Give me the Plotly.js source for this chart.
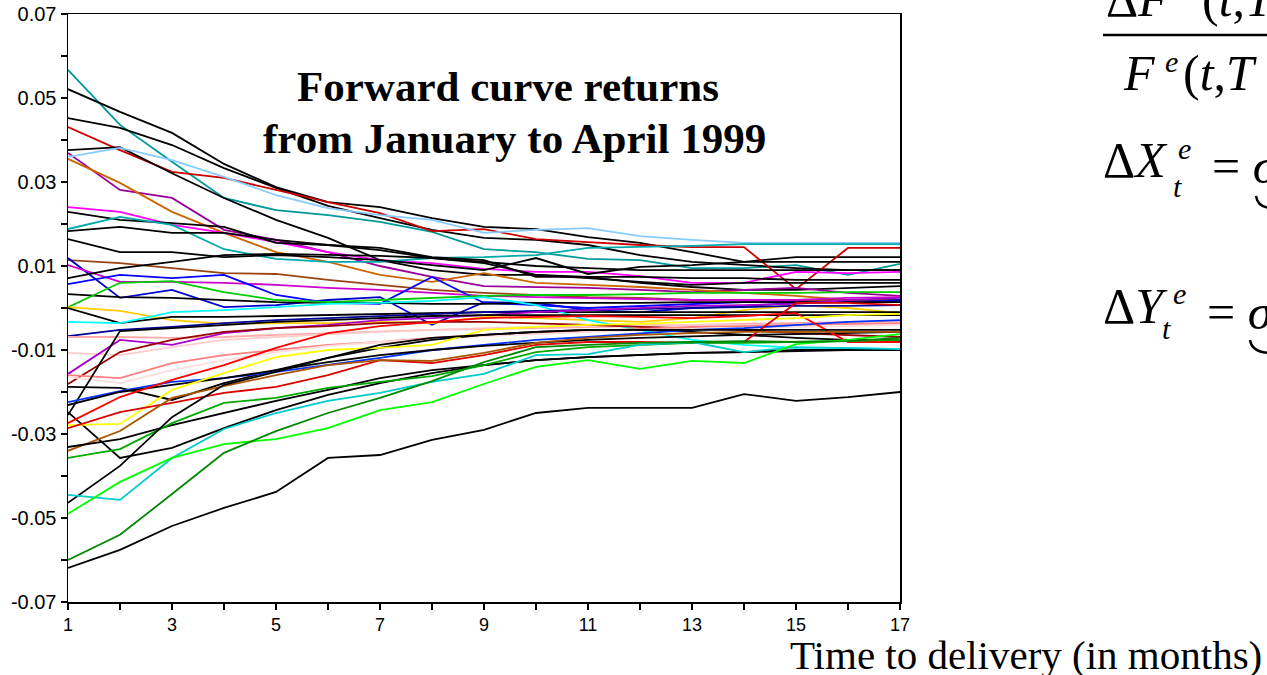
<!DOCTYPE html>
<html>
<head>
<meta charset="utf-8">
<script src="https://cdn.plot.ly/plotly-3.0.1.min.js"></script>
<style>
html,body{margin:0;padding:0;background:#fff;}
#chart{width:1267px;height:675px;}
</style>
</head>
<body>
<div id="chart"></div>
<script>
// ---- data ----
const months = [1,2,3,4,5,6,7,8,9,10,11,12,13,14,15,16,17];
const xTickText = ['1','','3','','5','','7','','9','','11','','13','','15','','17'];
const yTickVals = [-0.07,-0.06,-0.05,-0.04,-0.03,-0.02,-0.01,0,0.01,0.02,0.03,0.04,0.05,0.06,0.07];
const yTickText = ['-0.07','','-0.05','','-0.03','','-0.01','','0.01','','0.03','','0.05','','0.07'];

const r01 = [0.0567,0.0436,0.0348,0.0262,0.0233,0.0221,0.0205,0.0181,0.0140,0.0133,0.0117,0.0114,0.0095,0.0095,0.0102,0.0079,0.0105];
const r02 = [0.0521,0.0467,0.0417,0.0343,0.0288,0.0252,0.0240,0.0214,0.0193,0.0188,0.0169,0.0155,0.0133,0.0110,0.0121,0.0121,0.0121];
const r03 = [0.0452,0.0429,0.0388,0.0333,0.0286,0.0243,0.0214,0.0186,0.0167,0.0162,0.0150,0.0126,0.0110,0.0102,0.0095,0.0090,0.0090];
const r04 = [0.0431,0.0376,0.0324,0.0310,0.0281,0.0252,0.0226,0.0183,0.0188,0.0164,0.0157,0.0150,0.0145,0.0145,0.0045,0.0143,0.0143];
const r05 = [0.0376,0.0383,0.0321,0.0262,0.0210,0.0167,0.0114,0.0090,0.0079,0.0079,0.0074,0.0060,0.0050,0.0043,0.0043,0.0048,0.0052];
const r06 = [0.0369,0.0281,0.0262,0.0186,0.0162,0.0133,0.0100,0.0074,0.0052,0.0050,0.0048,0.0043,0.0038,0.0043,0.0048,0.0036,0.0029];
const r07 = [0.0360,0.0381,0.0352,0.0312,0.0269,0.0238,0.0221,0.0210,0.0179,0.0186,0.0190,0.0171,0.0162,0.0155,0.0155,0.0155,0.0155];
const r08 = [0.0355,0.0298,0.0229,0.0179,0.0133,0.0110,0.0079,0.0062,0.0083,0.0060,0.0055,0.0050,0.0043,0.0036,0.0029,0.0019,0.0014];
const r09 = [0.0240,0.0229,0.0198,0.0179,0.0157,0.0133,0.0114,0.0107,0.0093,0.0086,0.0086,0.0076,0.0060,0.0060,0.0086,0.0083,0.0086];
const r10 = [0.0229,0.0210,0.0202,0.0193,0.0155,0.0150,0.0138,0.0119,0.0107,0.0079,0.0071,0.0062,0.0055,0.0060,0.0060,0.0060,0.0060];
const r11 = [0.0188,0.0217,0.0198,0.0140,0.0117,0.0110,0.0110,0.0119,0.0121,0.0126,0.0143,0.0145,0.0148,0.0152,0.0152,0.0152,0.0152];
const r12 = [0.0183,0.0193,0.0179,0.0179,0.0162,0.0150,0.0143,0.0121,0.0114,0.0074,0.0074,0.0074,0.0071,0.0071,0.0067,0.0067,0.0067];
const r13 = [0.0164,0.0133,0.0133,0.0121,0.0126,0.0121,0.0114,0.0102,0.0090,0.0119,0.0081,0.0098,0.0102,0.0110,0.0110,0.0110,0.0110];
const r14 = [0.0114,0.0107,0.0095,0.0083,0.0081,0.0067,0.0055,0.0043,0.0036,0.0031,0.0026,0.0024,0.0019,0.0019,0.0019,0.0019,0.0019];
const r15 = [0.0119,0.0024,0.0043,0.0002,0.0007,0.0019,0.0026,-0.0040,0.0014,0.0012,-0.0005,-0.0010,0.0000,0.0005,0.0012,0.0014,0.0019];
const r16 = [0.0102,0.0062,0.0062,0.0060,0.0055,0.0048,0.0043,0.0036,0.0029,0.0026,0.0024,0.0021,0.0019,0.0019,0.0019,0.0024,0.0026];
const r17 = [0.0071,0.0095,0.0110,0.0126,0.0129,0.0126,0.0124,0.0119,0.0110,0.0100,0.0095,0.0090,0.0090,0.0090,0.0090,0.0090,0.0090];
const r18 = [0.0057,0.0079,0.0071,0.0079,0.0031,0.0012,0.0010,0.0074,0.0012,0.0007,0.0000,0.0005,0.0010,0.0014,0.0014,0.0014,0.0014];
const r19 = [0.0033,0.0026,0.0024,0.0019,0.0014,0.0012,0.0012,0.0010,0.0010,0.0012,0.0012,0.0012,0.0014,0.0014,0.0014,0.0014,0.0014];
const r20 = [0.0002,0.0060,0.0064,0.0038,0.0019,0.0014,0.0019,0.0024,0.0029,0.0031,0.0031,0.0033,0.0036,0.0036,0.0036,0.0038,0.0038];
const r21 = [0.0002,-0.0007,-0.0029,-0.0038,-0.0036,-0.0036,-0.0033,-0.0036,-0.0021,-0.0024,-0.0029,-0.0033,-0.0024,-0.0005,0.0007,0.0000,-0.0012];
const r22 = [0.0000,-0.0036,-0.0021,-0.0021,-0.0019,-0.0017,-0.0014,-0.0012,-0.0010,-0.0010,-0.0010,-0.0010,-0.0010,-0.0010,-0.0010,-0.0010,-0.0010];
const r23 = [-0.0033,-0.0036,-0.0010,-0.0005,0.0002,0.0010,0.0012,0.0017,0.0026,0.0007,-0.0029,-0.0052,-0.0076,-0.0088,-0.0095,-0.0095,-0.0098];
const r24 = [-0.0067,-0.0052,-0.0045,-0.0036,-0.0029,-0.0024,-0.0019,-0.0014,-0.0010,-0.0007,-0.0005,-0.0002,0.0000,0.0002,0.0005,0.0005,0.0007];
const r25 = [-0.0069,-0.0069,-0.0071,-0.0069,-0.0064,-0.0060,-0.0057,-0.0052,-0.0050,-0.0048,-0.0045,-0.0043,-0.0040,-0.0038,-0.0036,-0.0033,-0.0031];
const r26 = [-0.0107,-0.0112,-0.0093,-0.0076,-0.0069,-0.0062,-0.0057,-0.0052,-0.0048,-0.0045,-0.0043,-0.0040,-0.0040,-0.0040,-0.0040,-0.0038,-0.0038];
const r27 = [-0.0157,-0.0076,-0.0088,-0.0060,-0.0048,-0.0040,-0.0029,-0.0024,-0.0017,-0.0010,-0.0005,0.0000,0.0005,0.0007,0.0010,0.0019,0.0024];
const r28 = [-0.0181,-0.0105,-0.0076,-0.0057,-0.0048,-0.0043,-0.0036,-0.0033,-0.0033,-0.0036,-0.0040,-0.0045,-0.0048,-0.0052,-0.0060,-0.0064,-0.0069];
const r29 = [-0.0160,-0.0167,-0.0131,-0.0112,-0.0100,-0.0088,-0.0081,-0.0071,-0.0064,-0.0060,-0.0055,-0.0050,-0.0045,-0.0043,-0.0040,-0.0038,-0.0036];
const r30 = [-0.0164,-0.0179,-0.0148,-0.0124,-0.0105,-0.0090,-0.0081,-0.0074,-0.0067,-0.0062,-0.0057,-0.0052,-0.0050,-0.0048,-0.0045,-0.0043,-0.0040];
const r31 = [-0.0188,-0.0190,-0.0219,-0.0179,-0.0148,-0.0119,-0.0095,-0.0076,-0.0064,-0.0057,-0.0052,-0.0052,-0.0057,-0.0064,-0.0071,-0.0076,-0.0076];
const r32 = [-0.0255,-0.0055,-0.0048,-0.0040,-0.0033,-0.0029,-0.0024,-0.0019,-0.0017,-0.0017,-0.0017,-0.0017,-0.0017,-0.0017,-0.0017,-0.0017,-0.0017];
const r33 = [-0.0248,-0.0357,-0.0333,-0.0286,-0.0243,-0.0207,-0.0179,-0.0155,-0.0136,-0.0124,-0.0117,-0.0112,-0.0107,-0.0105,-0.0102,-0.0100,-0.0100];
const r34 = [-0.0224,-0.0198,-0.0176,-0.0167,-0.0152,-0.0136,-0.0119,-0.0100,-0.0088,-0.0076,-0.0069,-0.0060,-0.0052,-0.0048,-0.0040,-0.0033,-0.0029];
const r35 = [-0.0231,-0.0200,-0.0183,-0.0167,-0.0148,-0.0129,-0.0112,-0.0100,-0.0090,-0.0083,-0.0076,-0.0071,-0.0067,-0.0064,-0.0062,-0.0060,-0.0057];
const r36 = [-0.0274,-0.0212,-0.0171,-0.0136,-0.0095,-0.0060,-0.0043,-0.0033,-0.0024,-0.0021,-0.0019,-0.0021,-0.0024,-0.0019,-0.0012,-0.0081,-0.0081];
const r37 = [-0.0279,-0.0276,-0.0195,-0.0155,-0.0117,-0.0100,-0.0095,-0.0088,-0.0052,-0.0045,-0.0040,-0.0038,-0.0033,-0.0029,-0.0024,-0.0017,-0.0014];
const r38 = [-0.0286,-0.0248,-0.0226,-0.0202,-0.0188,-0.0160,-0.0124,-0.0131,-0.0112,-0.0088,-0.0081,-0.0081,-0.0083,-0.0081,0.0012,0.0012,0.0007];
const r39 = [-0.0340,-0.0293,-0.0214,-0.0186,-0.0160,-0.0136,-0.0124,-0.0126,-0.0107,-0.0083,-0.0071,-0.0064,-0.0060,-0.0057,-0.0057,-0.0057,-0.0057];
const r40 = [-0.0331,-0.0312,-0.0279,-0.0250,-0.0221,-0.0195,-0.0167,-0.0148,-0.0136,-0.0124,-0.0117,-0.0112,-0.0107,-0.0105,-0.0100,-0.0100,-0.0100];
const r41 = [-0.0357,-0.0336,-0.0274,-0.0226,-0.0214,-0.0190,-0.0176,-0.0162,-0.0136,-0.0105,-0.0093,-0.0088,-0.0083,-0.0083,-0.0081,-0.0079,-0.0076];
const r42 = [-0.0464,-0.0376,-0.0260,-0.0183,-0.0152,-0.0119,-0.0088,-0.0071,-0.0064,-0.0057,-0.0052,-0.0052,-0.0052,-0.0052,-0.0052,-0.0052,-0.0052];
const r43 = [-0.0445,-0.0457,-0.0357,-0.0288,-0.0250,-0.0221,-0.0202,-0.0176,-0.0157,-0.0112,-0.0110,-0.0088,-0.0081,-0.0105,-0.0093,-0.0095,-0.0098];
const r44 = [-0.0490,-0.0414,-0.0357,-0.0324,-0.0312,-0.0286,-0.0243,-0.0224,-0.0181,-0.0140,-0.0124,-0.0145,-0.0126,-0.0131,-0.0086,-0.0076,-0.0062];
const r45 = [-0.0600,-0.0540,-0.0443,-0.0345,-0.0293,-0.0250,-0.0214,-0.0174,-0.0129,-0.0093,-0.0088,-0.0083,-0.0081,-0.0079,-0.0081,-0.0079,-0.0071];
const r46 = [-0.0619,-0.0576,-0.0519,-0.0476,-0.0438,-0.0357,-0.0350,-0.0314,-0.0290,-0.0250,-0.0238,-0.0238,-0.0238,-0.0205,-0.0221,-0.0212,-0.0200];

const seriesList = [r01,r02,r03,r04,r05,r06,r07,r08,r09,r10,r11,r12,r13,r14,r15,r16,r17,r18,r19,r20,r21,r22,r23,
  r24,r25,r26,r27,r28,r29,r30,r31,r32,r33,r34,r35,r36,r37,r38,r39,r40,r41,r42,r43,r44,r45,r46];

// ---- styles ----
const seriesColors = ['#009999','#000000','#000000','#cc0000','#000000','#990099','#88ccff','#cc6600','#ff00ff','#000000',
  '#00aaaa','#000000','#000000','#994411','#0000cc','#cc00cc','#000000','#0000ff','#000000','#00cc00',
  '#ffcc00','#000000','#00ffff','#000099','#ffaaaa','#ffcccc','#aa00cc','#990000','#ff8080','#ffdddd',
  '#000000','#000000','#000000','#0033ff','#000000','#ff0000','#ffff00','#dd0000','#aa5500','#000000',
  '#00aa00','#000000','#00cccc','#00ff00','#008800','#000000'];

const traces = seriesList.map((s, i) => ({
  x: months, y: s, type: 'scatter', mode: 'lines',
  line: {color: seriesColors[i], width: 1.8},
  hoverinfo: 'skip', showlegend: false
}));

// pixel helpers for paper coordinates (plot area 68..900 x 14..602)
const PL = 68, PR = 900, PT = 14, PB = 602;
const px = v => (v - PL) / (PR - PL);
const py = v => (PB - v) / (PB - PT);

const serif = 'Liberation Serif';
const titleFont = {family: serif, size: 43, color: '#000'};
const mathFont = {family: serif, size: 50, color: '#000'};
const smallMath = {family: serif, size: 30, color: '#000'};

function ann(text, x, y, font, xanchor) {
  return {text: text, xref: 'paper', yref: 'paper', x: px(x), y: py(y),
    xanchor: xanchor || 'left', yanchor: 'middle', showarrow: false, font: font};
}

const annotations = [
  ann('<b>Forward curve returns</b>', 508, 87, titleFont, 'center'),
  ann('<b>from January to April 1999</b>', 514, 138, titleFont, 'center'),
  ann('Time to delivery (in months)', 1264, 655, {family: serif, size: 41, color: '#000'}, 'right'),
  // numerator (cut off at the top)
  ann('Δ<i>F</i>', 1104, -1, mathFont),
  ann('(<i>t</i>,<i>T</i>', 1200, -1, mathFont),
  // denominator
  ann('<i>F</i>', 1121, 73, mathFont),
  ann('<i>e</i>', 1163, 62, smallMath),
  ann('(<i>t</i>,<i>T</i>', 1181, 73, mathFont),
  // ΔX
  ann('Δ<i>X</i>', 1101, 160, mathFont),
  ann('<i>e</i>', 1176, 148, smallMath),
  ann('<i>t</i>', 1171, 186, smallMath),
  ann('= <i>σ</i>', 1210, 166, mathFont),
  // ΔY
  ann('Δ<i>Y</i>', 1101, 306, mathFont),
  ann('<i>e</i>', 1171, 293, smallMath),
  ann('<i>t</i>', 1160, 328, smallMath),
  ann('= <i>σ</i>', 1205, 312, mathFont)
];

const shapes = [
  {type: 'line', xref: 'paper', yref: 'paper', x0: px(1103), x1: px(1270), y0: py(35), y1: py(35),
   line: {color: '#000', width: 2.5}},
  {type: 'path', xref: 'paper', yref: 'paper',
   path: `M ${px(1256)},${py(196)} Q ${px(1258)},${py(208)} ${px(1272)},${py(208)}`,
   line: {color: '#000', width: 2.5}},
  {type: 'path', xref: 'paper', yref: 'paper',
   path: `M ${px(1250)},${py(340)} Q ${px(1252)},${py(353)} ${px(1272)},${py(353)}`,
   line: {color: '#000', width: 2.5}}
];

const xTickFont = {family: 'Liberation Sans', size: 18, color: '#000'};
const yTickFont = {family: 'Liberation Sans', size: 20, color: '#000'};

const layout = {
  width: 1267, height: 675, autosize: false,
  font: {family: 'Liberation Sans', size: 18, color: '#000'},
  margin: {l: PL, r: 1267 - PR, t: PT, b: 675 - PB, pad: 0},
  paper_bgcolor: '#fff', plot_bgcolor: '#fff',
  showlegend: false,
  xaxis: {
    range: [1, 17], tickmode: 'array', tickvals: months, ticktext: xTickText,
    ticks: 'outside', ticklen: 6, tickwidth: 1.2, tickcolor: '#000',
    showline: true, linecolor: '#000', linewidth: 1.5, mirror: true,
    showgrid: false, zeroline: false, tickfont: xTickFont
  },
  yaxis: {
    range: [-0.07, 0.07], tickmode: 'array', tickvals: yTickVals, ticktext: yTickText,
    ticks: 'outside', ticklen: 6, tickwidth: 1.2, tickcolor: '#000',
    showline: true, linecolor: '#000', linewidth: 1.5, mirror: true,
    showgrid: false, zeroline: false, tickfont: yTickFont
  },
  annotations: annotations,
  shapes: shapes
};

Plotly.newPlot('chart', traces, layout, {staticPlot: true, displayModeBar: false});
</script>
</body>
</html>
